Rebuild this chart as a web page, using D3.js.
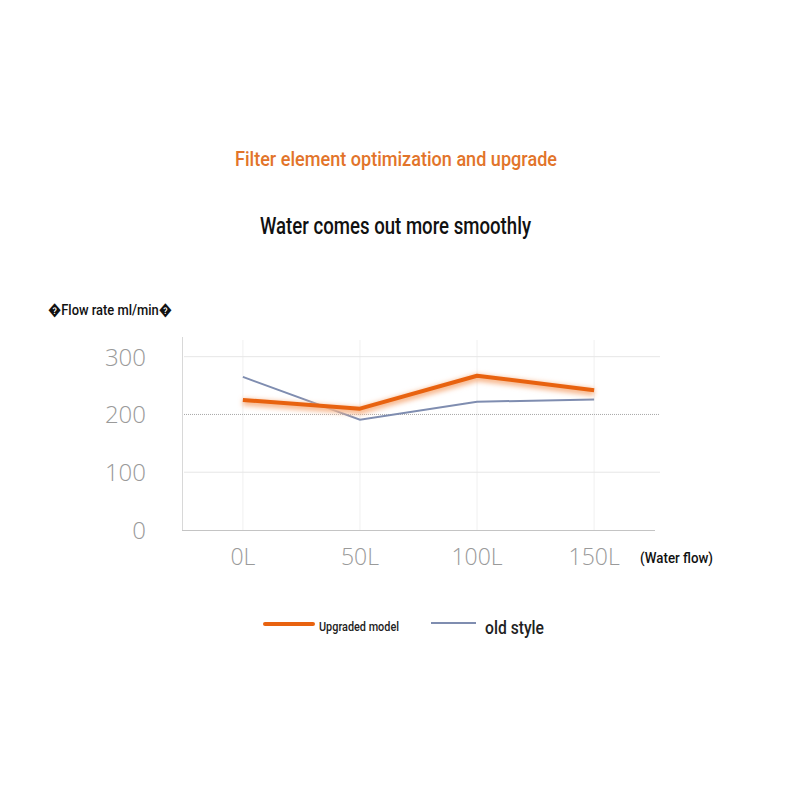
<!DOCTYPE html>
<html><head><meta charset="utf-8">
<script src="https://cdn.jsdelivr.net/npm/d3@7"></script>
<style>body{margin:0;background:#fff}</style>
</head><body>
<script>
const categories = ["0L","50L","100L","150L"];
const upgraded = [225, 210, 267, 242];
const oldStyle = [265, 191, 222, 226];
const yTicks = [0, 100, 200, 300];
const seriesNames = ["Upgraded model", "old style"];

const W = 800, H = 800;
const svg = d3.select("body").append("svg").attr("width", W).attr("height", H);
const cond = "Roboto,'DejaVu Sans Condensed',sans-serif";

const x = d3.scalePoint().domain(categories).range([182, 655]).padding(0.52);
const y = d3.scaleLinear().domain([0, 300]).range([530, 356.7]);

const defs = svg.append("defs");
const f = defs.append("filter").attr("id","glow").attr("x","-10%").attr("y","-50%").attr("width","120%").attr("height","200%");
f.append("feGaussianBlur").attr("stdDeviation", 2.5);

function condText(txt, x0, x1, yb, size, color, weight) {
  return svg.append("text").attr("x", x0).attr("y", yb)
    .attr("textLength", x1 - x0).attr("lengthAdjust", "spacingAndGlyphs")
    .style("font-family", cond).style("font-size", size + "px")
    .style("font-weight", weight || 500).attr("fill", color).text(txt);
}

// titles
condText("Filter element optimization and upgrade", 235, 557, 166, 20, "#e2742a");
condText("Water comes out more smoothly", 260, 531, 234, 24, "#111");
condText("\uFFFDFlow rate ml/min\uFFFD", 48, 172, 315, 15, "#111");

// vertical faint gridlines
svg.append("g").selectAll("line").data(categories).join("line")
  .attr("x1", d => x(d)).attr("x2", d => x(d)).attr("y1", 340).attr("y2", 530)
  .attr("stroke", "#f0f0f0").attr("stroke-width", 1);

// horizontal gridlines
svg.append("g").selectAll("line").data(yTicks.filter(d => d > 0)).join("line")
  .attr("x1", 184).attr("x2", 660).attr("y1", d => y(d)).attr("y2", d => y(d))
  .attr("stroke", d => d === 200 ? "#a8a8a8" : "#e6e6e6")
  .attr("stroke-dasharray", d => d === 200 ? "1,1" : null)
  .attr("stroke-width", 1);

// axes lines
svg.append("line").attr("x1", 182.5).attr("x2", 182.5).attr("y1", 337).attr("y2", 530)
  .attr("stroke", "#d8d8d8");
svg.append("line").attr("x1", 182).attr("x2", 655).attr("y1", 530.5).attr("y2", 530.5)
  .attr("stroke", "#c4c4c4");

// y tick labels
svg.append("g").selectAll("text").data(yTicks).join("text")
  .attr("x", 146).attr("y", d => y(d) + 9).attr("text-anchor","end")
  .style("font-family","'Open Sans','DejaVu Sans',sans-serif").style("font-size","24px")
  .style("font-weight", 300).attr("fill","#9a9a9a").text(d => d);

// x tick labels
svg.append("g").selectAll("text").data(categories).join("text")
  .attr("x", d => x(d)).attr("y", 565).attr("text-anchor","middle")
  .style("font-family","'Open Sans','DejaVu Sans',sans-serif").style("font-size","23px")
  .style("font-weight", 300).attr("fill","#9a9a9a").text(d => d);

condText("(Water flow)", 640, 713, 563, 15, "#111");

const line = d3.line().x((d, i) => x(categories[i])).y(d => y(d));

// old style
svg.append("path").attr("d", line(oldStyle)).attr("fill","none")
  .attr("stroke","#7f8db0").attr("stroke-width", 2);

// upgraded with glow
svg.append("path").attr("d", line(upgraded)).attr("fill","none")
  .attr("stroke","#f7b58a").attr("stroke-width", 7).attr("filter","url(#glow)")
  .attr("transform","translate(0,2)");
svg.append("path").attr("d", line(upgraded)).attr("fill","none")
  .attr("stroke","#e8620f").attr("stroke-width", 4).attr("stroke-linejoin","round");

// legend
svg.append("line").attr("x1", 265).attr("x2", 313).attr("y1", 624).attr("y2", 624)
  .attr("stroke","#e8620f").attr("stroke-width", 4).attr("stroke-linecap","round");
condText(seriesNames[0], 319, 399, 631, 13, "#222");
svg.append("line").attr("x1", 431).attr("x2", 476).attr("y1", 623).attr("y2", 623)
  .attr("stroke","#7f8db0").attr("stroke-width", 2);
condText(seriesNames[1], 485, 544, 634, 19, "#222");
</script>
</body></html>
